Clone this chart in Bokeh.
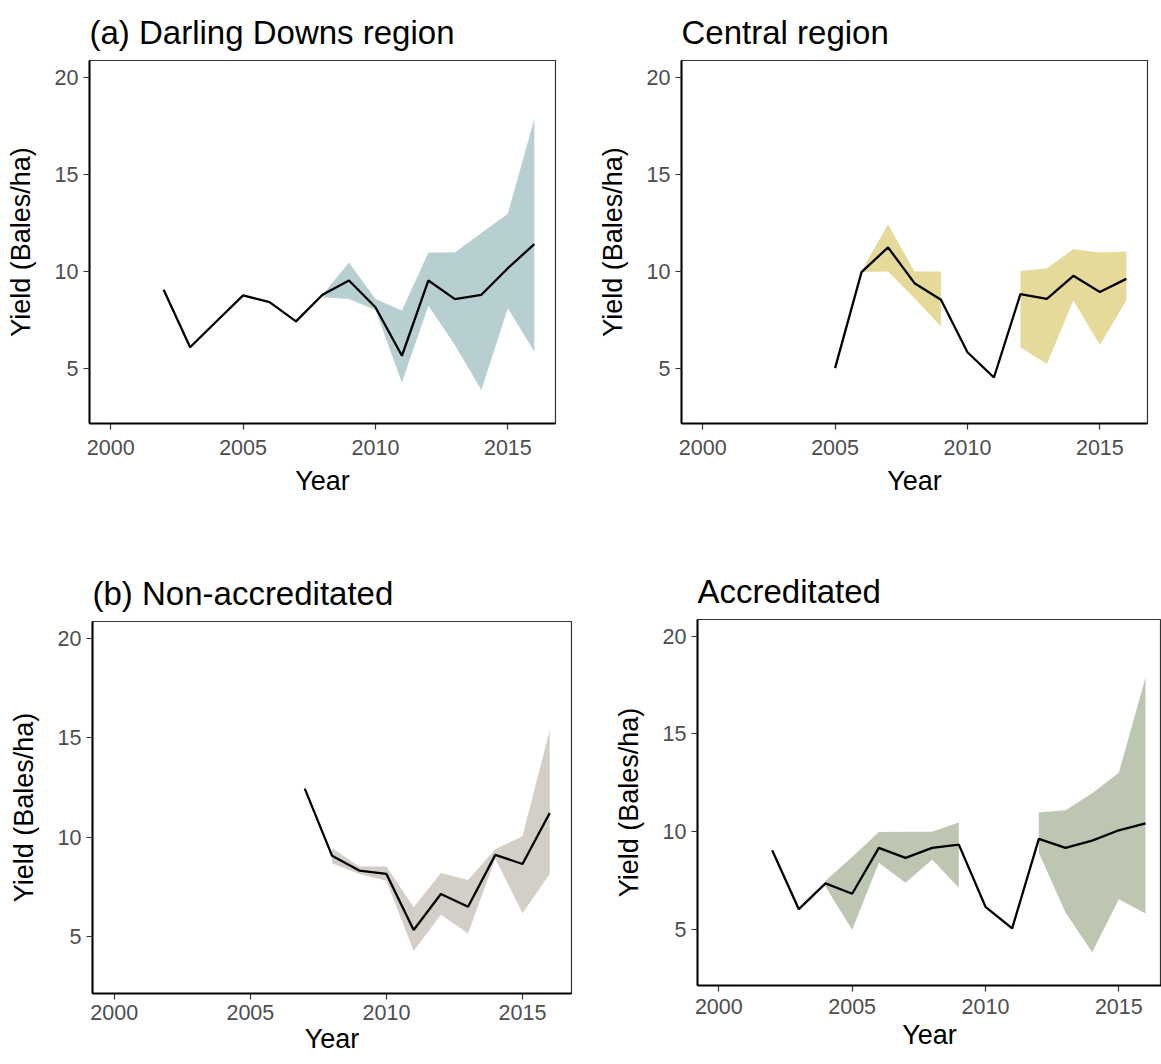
from bokeh.plotting import figure
from bokeh.layouts import column, row
from bokeh.models import Range1d, FixedTicker
from bokeh.embed import file_html
from bokeh.resources import INLINE

# Mean cotton yield (bales/ha) by season with the range across farms
years_dd = list(range(2002, 2017))
mean_dd = [9.04, 6.08, 7.42, 8.75, 8.40, 7.41, 8.78, 9.52, 8.14, 5.64, 9.52, 8.56, 8.78, 10.15, 11.39]
lo_dd = [None] * 6 + [8.66, 8.56, 8.00, 4.26, 8.21, 6.20, 3.88, 8.09, 5.86]
hi_dd = [None] * 6 + [8.78, 10.45, 8.56, 7.97, 10.96, 10.96, 11.96, 12.96, 17.84]

years_c = list(range(2005, 2017))
mean_c = [5.00, 9.95, 11.22, 9.38, 8.52, 5.82, 4.52, 8.81, 8.57, 9.76, 8.92, 9.60]
lo_c = [None, 9.95, 9.98, 8.60, 7.15, None, None, 6.08, 5.22, 8.49, 6.20, 8.49]
hi_c = [None, 10.00, 12.42, 9.98, 9.98, None, None, 10.00, 10.15, 11.13, 10.96, 11.01]

years_n = list(range(2007, 2017))
mean_n = [12.45, 9.08, 8.33, 8.16, 5.34, 7.15, 6.51, 9.12, 8.66, 11.22]
lo_n = [None, 8.70, 8.16, 7.82, 4.29, 6.11, 5.17, 8.92, 6.18, 8.16]
hi_n = [None, 9.47, 8.53, 8.53, 6.48, 8.21, 7.86, 9.40, 10.06, 15.39]

years_a = list(range(2002, 2017))
mean_a = [9.06, 6.05, 7.37, 6.84, 9.18, 8.67, 9.18, 9.35, 6.17, 5.07, 9.64, 9.18, 9.55, 10.08, 10.43]
lo_a = [None, None, 7.20, 5.00, 8.42, 7.40, 8.59, 7.15, None, None, 8.93, 5.88, 3.85, 6.56, 5.83]
hi_a = [None, None, 7.50, 8.71, 9.99, 10.00, 10.00, 10.48, None, None, 10.99, 11.11, 11.97, 13.02, 17.89]

x_ticks = [2000, 2005, 2010, 2015]
y_ticks = [5, 10, 15, 20]

FONT = "Liberation Sans"


def segments(xs, lo, hi):
    """Split the ribbon into runs of consecutive years that have a range."""
    runs, cur = [], []
    for x, l, h in zip(xs, lo, hi):
        if l is None or h is None:
            if cur:
                runs.append(cur)
            cur = []
        else:
            cur.append((x, l, h))
    if cur:
        runs.append(cur)
    return runs


def panel(title, xs, mean, lo, hi, fill, width, height, borders,
          x_end=2016.8, x_standoffs=(10, 8)):
    left, right, top, bottom = borders
    p = figure(width=width, height=height, output_backend="svg", toolbar_location=None,
               x_range=Range1d(1999.2, x_end), y_range=Range1d(2.15, 20.85),
               min_border_left=left, min_border_right=right,
               min_border_top=top, min_border_bottom=bottom)
    p.title.text = title
    p.title.text_font = FONT
    p.title.text_font_size = "33px"
    p.title.text_font_style = "normal"
    p.title.text_color = "#000000"
    p.title.standoff = 20

    for run in segments(xs, lo, hi):
        p.varea(x=[r[0] for r in run], y1=[r[1] for r in run], y2=[r[2] for r in run],
                fill_color=fill, fill_alpha=1.0)
    p.line(xs, mean, line_color="black", line_width=2.3)

    p.xgrid.visible = False
    p.ygrid.visible = False
    p.outline_line_color = "#333333"
    p.outline_line_width = 1.2
    p.background_fill_color = "white"
    p.border_fill_color = "white"

    p.xaxis.ticker = FixedTicker(ticks=x_ticks)
    p.yaxis.ticker = FixedTicker(ticks=y_ticks)
    p.xaxis.axis_label = "Year"
    p.yaxis.axis_label = "Yield (Bales/ha)"
    for ax in (p.xaxis[0], p.yaxis[0]):
        ax.axis_label_text_font = FONT
        ax.axis_label_text_font_size = "27px"
        ax.axis_label_text_font_style = "normal"
        ax.axis_label_text_color = "#000000"
        ax.major_label_text_font = FONT
        ax.major_label_text_font_size = "21.5px"
        ax.major_label_text_color = "#4d4d4d"
        ax.axis_line_color = "black"
        ax.axis_line_width = 2
        ax.major_tick_line_color = "#333333"
        ax.major_tick_line_width = 1.2
        ax.major_tick_out = 6
        ax.major_tick_in = 0
        ax.minor_tick_line_color = None
    p.yaxis[0].major_label_standoff = 5
    p.yaxis[0].axis_label_standoff = 16
    p.xaxis[0].major_label_standoff = x_standoffs[0]
    p.xaxis[0].axis_label_standoff = x_standoffs[1]
    return p


p1 = panel("(a) Darling Downs region", years_dd, mean_dd, lo_dd, hi_dd, "#b7cfd0",
           580, 560, (89, 25, 60, 137))
p2 = panel("Central region", years_c, mean_c, lo_c, hi_c, "#e6da9a",
           581, 560, (101, 14, 60, 137))
p3 = panel("(b) Non-accreditated", years_n, mean_n, lo_n, hi_n, "#d3cfc8",
           600, 504, (92, 29, 61, 71), x_standoffs=(5, 1))
p4 = panel("Accreditated", years_a, mean_a, lo_a, hi_a, "#bcc6b0",
           561, 504, (97, 0, 57, 79), x_end=2016.6, x_standoffs=(7, 3))

# each bottom panel keeps its own frame box instead of sharing one with its neighbour
layout = column(row(p1, p2, spacing=0),
                row(column(p3, spacing=0), column(p4, spacing=0), spacing=0),
                spacing=0)

open("out.html", "w").write(file_html(layout, INLINE))
